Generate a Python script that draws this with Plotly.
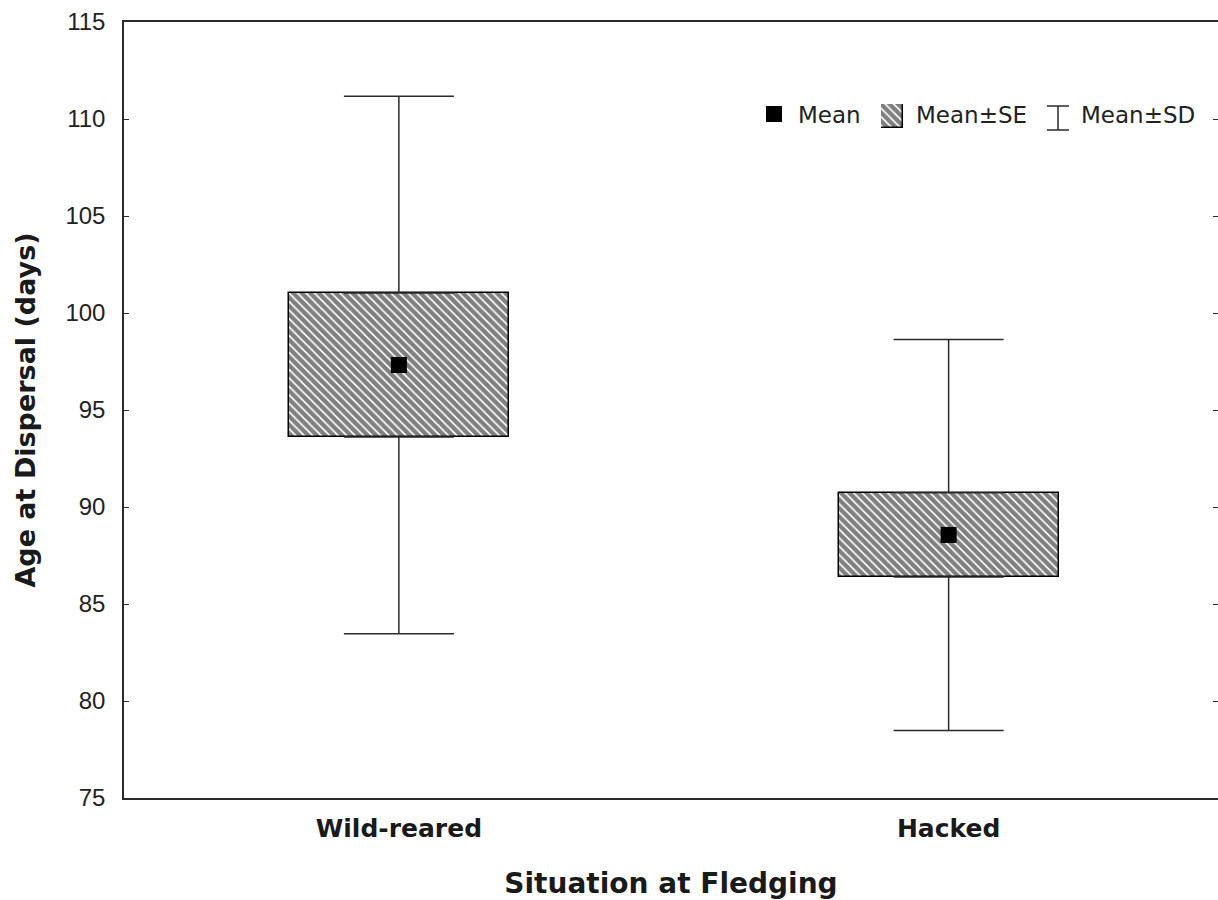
import plotly.graph_objects as go

# ---- data ----
categories = ["Wild-reared", "Hacked"]
means = [97.32, 88.56]
se = [3.71, 2.17]
sd = [13.85, 10.08]
y_ticks = [75, 80, 85, 90, 95, 100, 105, 110, 115]
legend_labels = ["Mean", "Mean±SE", "Mean±SD"]

xpos = list(range(len(categories)))
se_low = [m - s for m, s in zip(means, se)]
se_high = [m + s for m, s in zip(means, se)]

W, H = 1218, 900
L, R, T = 124, 0, 22
B = H - 798
PW, PH = W - L - R, H - T - B


def px(x):
    return (x - L) / PW


def py(y):
    return (H - B - y) / PH


AX = "#2a2a2a"
hatch = dict(shape="\\", fgcolor="black", bgcolor="white", size=6, solidity=0.72)

fig = go.Figure()

# SD whiskers (upper part from SE top, lower part from SE bottom)
fig.add_trace(go.Scatter(
    x=xpos + xpos,
    y=se_high + se_low,
    mode="markers",
    marker=dict(size=1, color="rgba(0,0,0,0)"),
    error_y=dict(
        type="data", symmetric=False,
        array=[d - s for d, s in zip(sd, se)] + [0] * len(xpos),
        arrayminus=[0] * len(xpos) + [d - s for d, s in zip(sd, se)],
        color=AX, thickness=1.5, width=55,
    ),
    showlegend=False, hoverinfo="skip",
))

# SE boxes
fig.add_trace(go.Bar(
    x=xpos, y=[2 * s for s in se], base=se_low, width=0.4,
    marker=dict(color="white", pattern=hatch, line=dict(color="black", width=1.5)),
    showlegend=False, hoverinfo="skip",
))

# Means
fig.add_trace(go.Scatter(
    x=xpos, y=means, mode="markers",
    marker=dict(symbol="square", size=16, color="black"),
    showlegend=False, hoverinfo="skip",
))

# invisible trace to activate right-side tick axis
fig.add_trace(go.Scatter(
    x=xpos, y=means, yaxis="y2", mode="markers",
    marker=dict(size=1, color="rgba(0,0,0,0)"),
    showlegend=False, hoverinfo="skip",
))

# legend hatch swatch on a tiny axis
fig.add_trace(go.Bar(
    x=[0], y=[1], xaxis="x3", yaxis="y3", width=1,
    marker=dict(color="white", pattern=hatch, line=dict(color="black", width=1.5)),
    showlegend=False, hoverinfo="skip",
))

fig.update_layout(
    width=W, height=H,
    margin=dict(l=L, r=R, t=T, b=B, pad=0),
    paper_bgcolor="white", plot_bgcolor="white",
    showlegend=False,
    bargap=0,
    xaxis=dict(
        range=[-0.5, 1.49], tickvals=xpos, ticktext=categories,
        showline=True, linecolor=AX, linewidth=1.5, mirror=True,
        ticks="", showgrid=False, zeroline=False, automargin=False,
        tickfont=dict(family="DejaVu Sans", size=25, color="#1a1a1a", weight="bold"),
        ticklabelstandoff=7,
        title=dict(text="Situation at Fledging", standoff=41,
                   font=dict(family="DejaVu Sans", size=28, color="#1a1a1a", weight="bold")),
    ),
    yaxis=dict(
        range=[75, 115], tickvals=y_ticks,
        showline=True, linecolor=AX, linewidth=1.5,
        ticks="inside", ticklen=5, tickcolor=AX, tickwidth=1.2,
        showgrid=False, zeroline=False, automargin=False,
        tickfont=dict(family="Liberation Sans, Arial", size=24, color="#222"),
        ticklabelstandoff=12,
        title=dict(text="Age at Dispersal (days)", standoff=22,
                   font=dict(family="DejaVu Sans", size=27, color="#1a1a1a", weight="bold")),
    ),
    yaxis2=dict(
        range=[75, 115], tickvals=y_ticks, overlaying="y", side="right",
        showline=False, ticks="inside", ticklen=5, tickcolor=AX, tickwidth=1.2,
        showticklabels=False, showgrid=False, zeroline=False, automargin=False,
    ),
    xaxis3=dict(domain=[px(881), px(903)], range=[-0.5, 0.5], visible=False, fixedrange=True, anchor="y3"),
    yaxis3=dict(domain=[py(128), py(104)], range=[0, 1], visible=False, fixedrange=True, anchor="x3"),
)

# legend: mean square and I-beam
fig.add_shape(type="rect", xref="paper", yref="paper",
              x0=px(766), x1=px(782), y0=py(122), y1=py(106),
              fillcolor="black", line=dict(width=0))
ib_x, ib_top, ib_bot, ib_hw = 1058, 106, 130, 11
fig.add_shape(type="line", xref="paper", yref="paper",
              x0=px(ib_x), x1=px(ib_x), y0=py(ib_bot), y1=py(ib_top),
              line=dict(color=AX, width=1.5))
for yy in (ib_top, ib_bot):
    fig.add_shape(type="line", xref="paper", yref="paper",
                  x0=px(ib_x - ib_hw), x1=px(ib_x + ib_hw), y0=py(yy), y1=py(yy),
                  line=dict(color=AX, width=1.5))

for lab, xs in zip(legend_labels, [796, 914, 1079]):
    fig.add_annotation(
        text=lab, xref="paper", yref="paper", x=px(xs), y=py(115),
        xanchor="left", yanchor="middle", showarrow=False,
        font=dict(family="DejaVu Sans", size=23, color="#222"),
    )

# remove the browser's default page margin so the 1218x900 figure fills the window
fig.write_html(
    "out.html",
    config={"displayModeBar": False},
    post_script="document.body.style.margin='0';document.body.style.overflow='hidden';",
)
